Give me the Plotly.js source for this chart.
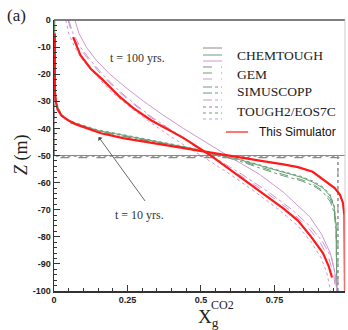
<!DOCTYPE html>
<html><head><meta charset="utf-8">
<script src="https://cdn.plot.ly/plotly-3.0.1.min.js"></script>
<style>html,body{margin:0;padding:0;background:#fff}#chart{width:348px;height:330px}</style>
</head><body><div id="chart"></div>
<script>
// ---- initial state (t = 0) ----
const chemT0_x = [0, 0, 1, 1];
const chemT0_z = [0, -50, -50, -100];
const gemT0_x = [0, 0, 0.99];
const gemT0_z = [0, -50.8, -50.8];
const simT0_x = [0, 0, 0.966, 0.966];
const simT0_z = [0, -50, -50, -100];
const tghT0_x = [0, 0, 0.966, 0.966];
const tghT0_z = [0, -50.3, -50.3, -100];

// ---- t = 10 yrs (green = other codes, red = this simulator) ----
const t10_x = [0.002,0.003,0.008,0.025,0.055,0.1,0.15,0.25,0.35,0.45,0.55,0.63,0.71,0.78,0.84,0.88,0.915,0.94,0.953,0.96,0.962];
const chem10_z = [0,-25,-31,-35,-37.5,-39.2,-40.8,-42.8,-44.8,-47,-49.5,-51.5,-54,-56.3,-58,-59.8,-62,-65,-69,-76,-100];
const gem10_z  = [0,-26,-31.5,-35.5,-38,-39.6,-41.2,-43.2,-45.2,-47.3,-49.8,-51.8,-54.5,-57,-58.8,-60.5,-63,-66,-70,-77,-100];
const simu10_z = [0,-25.5,-31,-35,-37.7,-39.5,-41,-43,-45,-47.2,-49.7,-52,-55,-57.5,-59.3,-61,-63.5,-67,-71,-78,-100];
const tgh10_z  = [0,-25,-30.5,-34.8,-37.3,-39,-40.6,-42.6,-44.6,-46.8,-49.3,-51.3,-53.8,-56,-57.7,-59.4,-61.6,-64.5,-68.5,-75,-100];
const this10_x = [0.003,0.003,0.006,0.012,0.025,0.048,0.08,0.122,0.16,0.235,0.35,0.46,0.55,0.63,0.71,0.78,0.83,0.88,0.928,0.955,0.973,0.983,0.988,0.99];
const this10_z = [-5,-26,-30,-33,-35.2,-37,-38.7,-40.4,-41.8,-43.6,-45.7,-47.6,-49.4,-50.8,-52.1,-53.3,-54.3,-56,-59.8,-62,-64.5,-67.5,-72,-100];

// ---- t = 100 yrs (pink = other codes, red = this simulator) ----
const chem100_x = [0.071,0.085,0.11,0.145,0.19,0.245,0.305,0.37,0.44,0.515,0.59,0.7,0.78,0.87,0.91,0.94,0.955,0.962];
const chem100_z = [0,-5,-10,-15,-20,-25,-30,-35,-40,-45,-50,-57,-63.5,-72.6,-79,-86,-93,-100];
const gem100_x = [0.048,0.06,0.085,0.12,0.16,0.215,0.27,0.33,0.4,0.47,0.545,0.63,0.72,0.8,0.86,0.905,0.935,0.952,0.958];
const gem100_z = [0,-5,-10,-15,-20,-26,-31,-36,-41,-46,-51,-57,-63.5,-70,-76,-82,-88,-94,-100];
const simu100_x = [0.05,0.065,0.09,0.125,0.165,0.22,0.275,0.335,0.405,0.475,0.55,0.64,0.73,0.81,0.87,0.915,0.945,0.958,0.962];
const simu100_z = [0,-5,-10,-15,-20,-26,-31,-36,-41,-46,-51,-57,-63.5,-70,-76,-82,-88,-94,-100];
const tgh100_x = [0.04,0.05,0.07,0.1,0.14,0.19,0.245,0.305,0.37,0.44,0.515,0.6,0.685,0.765,0.83,0.875,0.91,0.93,0.94];
const tgh100_z = [0,-5,-10,-15,-20,-26,-31,-36,-41,-46,-51,-57,-63.5,-70,-76,-82,-88,-94,-100];
const this100_x = [0.065,0.09,0.125,0.165,0.22,0.27,0.33,0.44,0.53,0.62,0.71,0.78,0.83,0.875,0.915,0.935,0.946];
const this100_z = [-6.3,-13,-18,-22,-28,-32.5,-37,-43.5,-49.8,-57,-64,-69.5,-74,-80,-86,-91,-95];

// ---- axis ticks ----
const yTickVals = [0,-10,-20,-30,-40,-50,-60,-70,-80,-90,-100];
const yTickText = ['0','-10','-20','-30','-40','-50','-60','-70','-80','-90','-100'];
const xTickVals = [0,0.25,0.5,0.75,1];
const xTickText = ['0','0.25','0.5','0.75','1'];

const legendNames = ['CHEMTOUGH','GEM','SIMUSCOPP','TOUGH2/EOS7C','This Simulator'];

const GRAY='#8a8a8a', GREEN='#6a9f78', PINK='#cf98cf', RED='#ff1a1a';
function tr(x,y,color,dash,w){return {x:x,y:y,type:'scatter',mode:'lines',line:{color:color,dash:dash,width:w||1},hoverinfo:'skip',showlegend:false};}

const data = [
  tr(chemT0_x,chemT0_z,GRAY,'solid',1.2),
  tr(gemT0_x,gemT0_z,GRAY,'dash',1.2),
  tr(simT0_x,simT0_z,GRAY,'dashdot',1),
  tr(tghT0_x,tghT0_z,GRAY,'dot',1),
  tr(t10_x,chem10_z,GREEN,'solid',1),
  tr(t10_x,gem10_z,GREEN,'dash',1),
  tr(t10_x,simu10_z,GREEN,'dashdot',1),
  tr(t10_x,tgh10_z,GREEN,'dot',1),
  tr(chem100_x,chem100_z,PINK,'solid',1),
  tr(gem100_x,gem100_z,PINK,'dash',1),
  tr(simu100_x,simu100_z,PINK,'dashdot',1),
  tr(tgh100_x,tgh100_z,PINK,'dot',1),
  tr(this10_x,this10_z,RED,'solid',2.2),
  tr(this100_x,this100_z,RED,'solid',2.2)
];

// legend drawn with shapes (paper coords)
const L=54, T=20, W=291, H=271;
const px=(v)=>(v-L)/W, py=(v)=>(T+H-v)/H;
const shapes=[];
const annotations=[];
const dashes=['solid','dash','dashdot','dot'];
const rows=[[48,55,61,55],[67,73,79,74],[87,93,100,92],[107,113,119,112]];
rows.forEach((r,i)=>{
  [[r[0],GRAY],[r[1],GREEN],[r[2],PINK]].forEach(s=>{
    shapes.push({type:'line',xref:'paper',yref:'paper',x0:px(203),x1:px(222),y0:py(s[0]),y1:py(s[0]),line:{color:s[1],width:1,dash:dashes[i]}});
  });
  annotations.push({xref:'paper',yref:'paper',x:px(235),y:py(r[3]),xanchor:'left',yanchor:'middle',showarrow:false,text:legendNames[i],font:{family:'Liberation Serif, Times New Roman, serif',size:13.5,color:'#222'}});
});
shapes.push({type:'line',xref:'paper',yref:'paper',x0:px(226),x1:px(248),y0:py(132),y1:py(132),line:{color:RED,width:1.2}});
annotations.push({xref:'paper',yref:'paper',x:px(257),y:py(132),xanchor:'left',yanchor:'middle',showarrow:false,text:legendNames[4],font:{family:'Liberation Sans, Arial, sans-serif',size:12,color:'#111'}});
// frame top / right
shapes.push({type:'line',xref:'paper',yref:'paper',x0:0,x1:1,y0:1,y1:1,line:{color:'#555',width:1.5}});
shapes.push({type:'line',xref:'paper',yref:'paper',x0:1,x1:1,y0:0,y1:1,line:{color:'#ccc',width:1}});

annotations.push({xref:'x',yref:'y',x:0.285,y:-14,showarrow:false,text:'t = 100 yrs.',font:{family:'Liberation Serif, serif',size:12,color:'#333'}});
annotations.push({xref:'x',yref:'y',x:0.29,y:-72,showarrow:false,text:'t = 10 yrs.',font:{family:'Liberation Serif, serif',size:12,color:'#333'}});
annotations.push({xref:'x',yref:'y',axref:'x',ayref:'y',x:0.152,y:-43.2,ax:0.32,ay:-68.3,showarrow:true,arrowhead:1,arrowsize:1.2,arrowwidth:0.8,arrowcolor:'#444',text:' '});
annotations.push({xref:'paper',yref:'paper',x:px(5),y:py(15),xanchor:'left',yanchor:'middle',showarrow:false,text:'(a)',font:{family:'Liberation Serif, serif',size:17,color:'#222'}});
annotations.push({xref:'paper',yref:'paper',x:px(21),y:py(155),xanchor:'center',yanchor:'middle',textangle:-90,showarrow:false,text:'<i>Z</i> (m)',font:{family:'Liberation Serif, serif',size:18,color:'#222'}});
annotations.push({xref:'paper',yref:'paper',x:px(196),y:py(318),xanchor:'left',yanchor:'middle',showarrow:false,text:'X<sub>g</sub>',font:{family:'Liberation Serif, serif',size:19,color:'#222'}});
annotations.push({xref:'paper',yref:'paper',x:px(209),y:py(305),xanchor:'left',yanchor:'middle',showarrow:false,text:'CO2',font:{family:'Liberation Serif, serif',size:12,color:'#222'}});

const tickFont={family:'Liberation Sans, Arial, sans-serif',size:9,color:'#222',weight:'bold'};
const layout={
  width:348,height:330,
  margin:{l:L,r:348-L-W,t:T,b:330-T-H,pad:0},
  paper_bgcolor:'#fff',plot_bgcolor:'#fff',
  showlegend:false,
  xaxis:{range:[0,0.99],tickvals:xTickVals,ticktext:xTickText,ticks:'inside',ticklen:6,tickwidth:1,tickcolor:'#333',
    showgrid:false,zeroline:false,showline:true,linecolor:'#333',linewidth:1.5,tickfont:tickFont,
    minor:{dtick:0.05,ticks:'inside',ticklen:3,tickcolor:'#333',showgrid:false}},
  yaxis:{range:[-100,0],tickvals:yTickVals,ticktext:yTickText,ticks:'inside',ticklen:6,tickwidth:1,tickcolor:'#333',
    showgrid:false,zeroline:false,showline:true,linecolor:'#333',linewidth:1.5,tickfont:tickFont,
    minor:{dtick:2,ticks:'inside',ticklen:3,tickcolor:'#333',showgrid:false}},
  shapes:shapes,annotations:annotations
};
Plotly.newPlot('chart',data,layout,{displayModeBar:false,staticPlot:true});
</script></body></html>
